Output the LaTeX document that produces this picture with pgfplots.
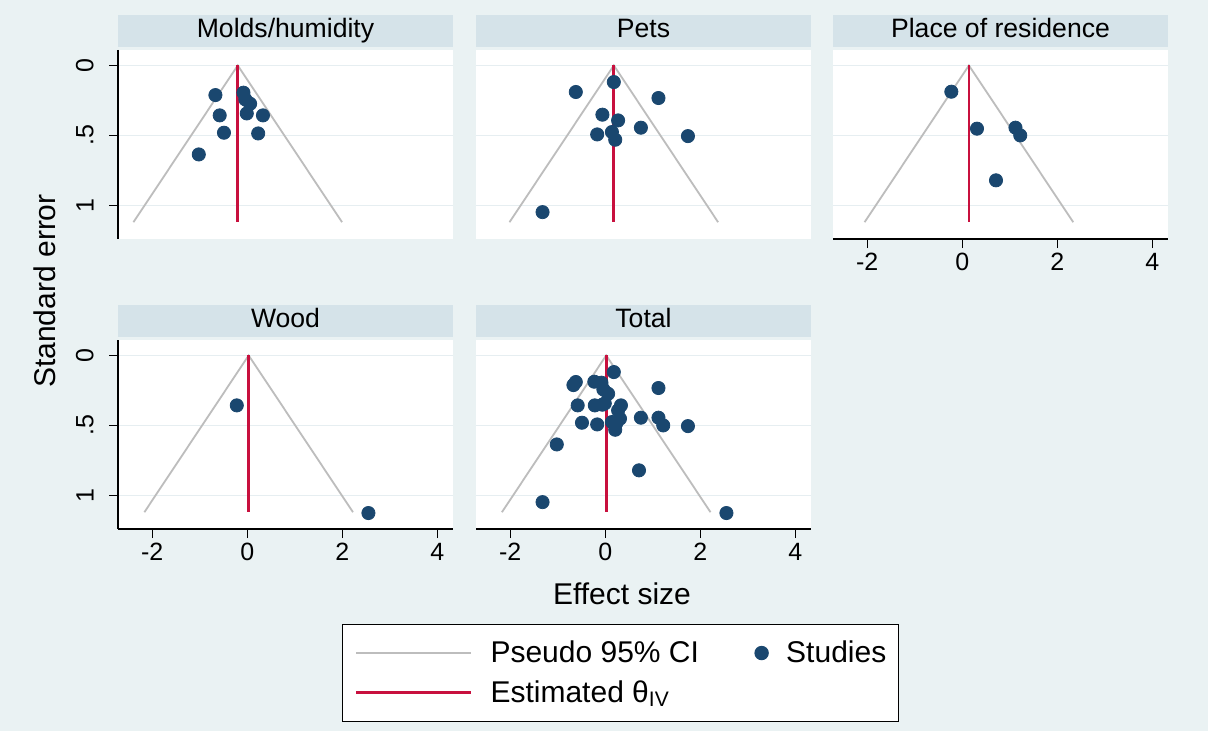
\documentclass[border=0pt]{standalone}
\usepackage{fontspec}
\setmainfont{Liberation Sans}
\usepackage{pgfplots}
\usepackage{pgfplotstable}
\pgfplotsset{compat=1.18}

\definecolor{bgc}{HTML}{EAF2F3}
\definecolor{stripc}{HTML}{D5E3E9}
\definecolor{gridc}{HTML}{E6EEF1}
\definecolor{navy}{HTML}{1A476F}
\definecolor{ivred}{HTML}{C8103E}
\definecolor{cigrey}{HTML}{BDBDBD}

% effect size / standard error of each study, by exposure group
\pgfplotstableread{
es se
-0.67 0.212
-0.08 0.195
-0.04 0.243
0.06 0.274
-0.01 0.343
0.33 0.357
-0.58 0.357
-0.49 0.481
0.23 0.486
-1.02 0.636
}\molds
\pgfplotstableread{
es se
0.18 0.119
-0.62 0.190
1.12 0.233
-0.06 0.352
0.27 0.393
0.75 0.445
0.14 0.476
-0.17 0.493
0.21 0.531
1.74 0.505
-1.32 1.048
}\pets
\pgfplotstableread{
es se
-0.23 0.188
0.31 0.452
1.12 0.445
1.22 0.500
0.71 0.821
}\place
\pgfplotstableread{
es se
-0.22 0.357
2.55 1.126
}\wood
\pgfplotstableread{
es se
-0.67 0.212
-0.08 0.195
-0.04 0.243
0.06 0.274
-0.01 0.343
0.33 0.357
-0.58 0.357
-0.49 0.481
0.23 0.486
-1.02 0.636
0.18 0.119
-0.62 0.190
1.12 0.233
-0.06 0.352
0.27 0.393
0.75 0.445
0.14 0.476
-0.17 0.493
0.21 0.531
1.74 0.505
-1.32 1.048
-0.23 0.188
0.31 0.452
1.12 0.445
1.22 0.500
0.71 0.821
-0.22 0.357
2.55 1.126
}\total

\pgfplotsset{
  every axis title/.style={at={(0.5,1)}, anchor=south, yshift=1.5pt,
    fill=stripc, minimum width=167.5pt, minimum height=16pt, inner sep=0pt,
    text height=9.5pt, text depth=2.8pt, font=\fontsize{13.3}{15}\selectfont},
  panel/.style={
    scale only axis, width=167.5pt, height=94.5pt,
    xmin=-2.72, xmax=4.33, ymin=-0.11, ymax=1.24, y dir=reverse,
    axis background/.style={fill=white},
    axis x line*=bottom, axis y line*=left,
    axis line style={black, line width=0.6pt, -},
    xtick={-2,0,2,4}, xticklabels={-2,0,2,4},
    ytick={0,0.5,1}, yticklabels={0,.5,1},
    tick align=outside, major tick length=4.5pt,
    tick style={black, line width=0.6pt},
    ymajorgrids, grid style={gridc, line width=0.8pt},
    tick label style={font=\fontsize{12.5}{14}\selectfont},
    xticklabel style={inner sep=2.5pt},
    yticklabel style={rotate=90, anchor=south, inner sep=2.5pt},
    yticklabel shift=5pt,
  },
  nox/.style={x axis line style={draw=none}, xticklabels={}, xtick style={draw=none}},
  noy/.style={y axis line style={draw=none}, yticklabels={}, ytick style={draw=none}},
  ci/.style={color=cigrey, line width=0.9pt, no marks,
    legend image code/.code={\draw[##1] (0pt,0pt) -- (57.5pt,0pt);}},
  est/.style={color=ivred, line width=1.4pt, no marks,
    legend image code/.code={\draw[##1] (0pt,0pt) -- (57.5pt,0pt);}},
  studies/.style={only marks, mark=*, mark size=3.3pt, color=navy, fill=navy,
    legend image code/.code={\draw[##1] plot coordinates {(0pt,0pt)};}},
}

\begin{document}
\begin{tikzpicture}
\fill[bgc] (0,0) rectangle (604pt,-365.5pt);

% Molds/humidity
\begin{axis}[panel, nox, at={(59pt,-25pt)}, anchor=north west, title={Molds/humidity}]
\addplot[ci] coordinates {(-2.395,1.12) (-0.20,0) (1.995,1.12)};
\addplot[est] coordinates {(-0.20,0) (-0.20,1.12)};
\addplot[studies] table[x=es,y=se] {\molds};
\end{axis}

% Pets
\begin{axis}[panel, nox, noy, at={(238pt,-25pt)}, anchor=north west, title={Pets}]
\addplot[ci] coordinates {(-2.015,1.12) (0.18,0) (2.375,1.12)};
\addplot[est] coordinates {(0.18,0) (0.18,1.12)};
\addplot[studies] table[x=es,y=se] {\pets};
\end{axis}

% Place of residence
\begin{axis}[panel, noy, at={(416.5pt,-25pt)}, anchor=north west, title={Place of residence}]
\addplot[ci] coordinates {(-2.055,1.12) (0.14,0) (2.335,1.12)};
\addplot[est] coordinates {(0.14,0) (0.14,1.12)};
\addplot[studies] table[x=es,y=se] {\place};
\end{axis}

% Wood (carries the shared legend)
\begin{axis}[panel, at={(59pt,-170pt)}, anchor=north west, title={Wood},
  legend columns=2,
  legend style={at={(1.5,-0.503)}, anchor=north, draw=black, line width=0.6pt,
    fill=white, font=\fontsize{15}{18}\selectfont, legend cell align=left,
    inner xsep=6pt, inner ysep=8pt, row sep=7.5pt,
    nodes={inner sep=0pt},
    /tikz/every odd column/.append style={column sep=9pt},
    /tikz/every even column/.append style={column sep=28pt}}]
\addplot[ci] coordinates {(-2.165,1.12) (0.03,0) (2.225,1.12)};
\addlegendentry{Pseudo 95\% CI}
\addplot[studies] table[x=es,y=se] {\wood};
\addlegendentry{Studies}
\addplot[est] coordinates {(0.03,0) (0.03,1.12)};
\addlegendentry{Estimated θ\textsubscript{IV}}
\end{axis}

% Total
\begin{axis}[panel, noy, at={(238pt,-170pt)}, anchor=north west, title={Total}]
\addplot[ci] coordinates {(-2.175,1.12) (0.02,0) (2.215,1.12)};
\addplot[est] coordinates {(0.02,0) (0.02,1.12)};
\addplot[studies] table[x=es,y=se] {\total};
\end{axis}

\node[rotate=90, font=\fontsize{15}{18}\selectfont] at (22.5pt,-145.5pt) {Standard error};
\node[font=\fontsize{15}{18}\selectfont] at (311pt,-297pt) {Effect size};
\end{tikzpicture}
\end{document}
